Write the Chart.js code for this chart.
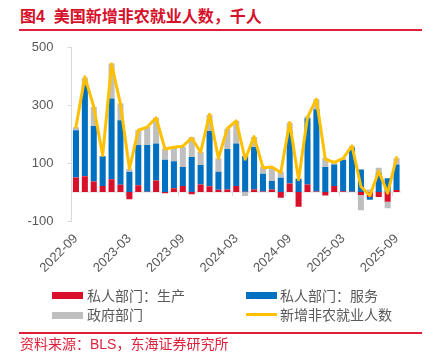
<!DOCTYPE html>
<html><head><meta charset="utf-8">
<script src="https://cdn.jsdelivr.net/npm/chart.js@4"></script>
<style>
html,body{margin:0;padding:0;background:#fff;}
body{width:438px;height:361px;position:relative;overflow:hidden;font-family:"Liberation Sans","Noto Sans CJK SC",sans-serif;}
#title{position:absolute;left:20px;top:7px;font-size:16px;font-weight:bold;color:#D7102A;line-height:20px;white-space:nowrap;font-family:"Liberation Sans","Noto Sans CJK SC",sans-serif;}
.rule{position:absolute;left:19px;width:403px;background:#E0203A;}
#c{position:absolute;left:0;top:0;}
.lg{position:absolute;font-size:14px;color:#595959;line-height:18px;white-space:nowrap;}
.sw{position:absolute;width:31px;}
#src{position:absolute;left:20px;top:335px;font-size:14px;color:#E0203A;line-height:18px;white-space:nowrap;}
</style></head>
<body>
<div id="title">图4&nbsp;&nbsp;美国新增非农就业人数，千人</div>
<div class="rule" style="top:29px;height:2px;"></div>
<canvas id="c" width="438" height="361"></canvas>
<div class="sw" style="left:52px;top:292px;height:7px;background:#D9102B;"></div>
<div class="lg" style="left:87px;top:287px;">私人部门：生产</div>
<div class="sw" style="left:246px;top:292px;height:7px;background:#0070C0;"></div>
<div class="lg" style="left:280px;top:287px;">私人部门：服务</div>
<div class="sw" style="left:52px;top:312px;height:7px;background:#BFBFBF;"></div>
<div class="lg" style="left:87px;top:306px;">政府部门</div>
<div class="sw" style="left:246px;top:313px;height:3px;background:#FFC000;"></div>
<div class="lg" style="left:280px;top:306px;">新增非农就业人数</div>
<div class="rule" style="top:332px;height:1.5px;"></div>
<div id="src">资料来源：BLS，东海证券研究所</div>
<script>
const months = ['2022-09','2022-10','2022-11','2022-12','2023-01','2023-02','2023-03','2023-04','2023-05','2023-06','2023-07','2023-08','2023-09','2023-10','2023-11','2023-12','2024-01','2024-02','2024-03','2024-04','2024-05','2024-06','2024-07','2024-08','2024-09','2024-10','2024-11','2024-12','2025-01','2025-02','2025-03','2025-04','2025-05','2025-06','2025-07','2025-08','2025-09'];
const shownTickLabels = ['2022-09','2023-03','2023-09','2024-03','2024-09','2025-03','2025-09'];
const privateGoods = [50,54,36,21,44,25,-25,23,1,40,-4,13,21,-8,26,20,8,9,21,1,9,2,9,-20,29,-51,26,2,-12,21,3,1,-10,-17,-17,-34,7];
const privateServices = [163,314,192,102,278,222,70,139,161,127,111,93,65,121,67,190,62,139,146,123,146,61,29,49,179,45,228,283,86,74,107,152,78,-10,66,47,88];
const government = [10,26,65,1,121,58,10,51,62,89,38,47,69,69,45,56,46,70,78,-14,35,23,48,21,31,2,6,35,32,8,6,6,-53,9,18,-22,21];
const totalNonfarm = [224,397,293,126,441,303,80,213,224,256,148,154,158,186,137,268,116,219,245,113,191,84,86,67,240,42,258,320,113,102,116,159,19,-13,72,-4,119];
const yTicks = [-100,100,300,500];

const zeroLine = {
  id:'zeroLine',
  beforeDatasetsDraw(chart){
    const {ctx, chartArea, scales:{x, y}} = chart;
    const y0 = y.getPixelForValue(0);
    ctx.save();
    ctx.strokeStyle = '#D9D9D9';
    ctx.lineWidth = 1;
    ctx.beginPath();
    ctx.moveTo(chartArea.left, y0); ctx.lineTo(chartArea.right, y0);
    for (let i = 6; i < months.length; i += 6) {
      const px = Math.round((x.getPixelForValue(i) + x.getPixelForValue(i-1)) / 2) + 0.5;
      ctx.moveTo(px, y0); ctx.lineTo(px, y0 + 4);
    }
    ctx.stroke();
    ctx.restore();
  }
};

new Chart(document.getElementById('c'), {
  type:'bar',
  data:{
    labels: months,
    datasets:[
      {label:'私人部门：生产', data: privateGoods, backgroundColor:'#D9102B', order:1, stack:'s'},
      {label:'私人部门：服务', data: privateServices, backgroundColor:'#0070C0', order:1, stack:'s'},
      {label:'政府部门', data: government, backgroundColor:'#BFBFBF', order:1, stack:'s'},
      {label:'新增非农就业人数', type:'line', data: totalNonfarm, borderColor:'#FFC000', backgroundColor:'#FFC000', borderWidth:3, pointRadius:0, tension:0, order:0, borderJoinStyle:'round', borderCapStyle:'round'}
    ]
  },
  options:{
    responsive:false,
    animation:false,
    devicePixelRatio:1,
    layout:{padding:{top:47, right:37, bottom:70, left:0}},
    plugins:{legend:{display:false}, tooltip:{enabled:false}},
    datasets:{bar:{categoryPercentage:1, barPercentage:0.68}},
    scales:{
      x:{
        stacked:true,
        grid:{display:false, drawTicks:false},
        border:{display:false},
        ticks:{
          autoSkip:false, maxRotation:45, minRotation:45, padding:10,
          color:'#595959', font:{family:'Liberation Sans', size:13},
          callback:function(v,i){ const l = months[i]; return shownTickLabels.includes(l) ? l : ''; }
        },
        afterFit:function(s){ s.height = 70; }
      },
      y:{
        stacked:true,
        min:-100, max:500,
        afterBuildTicks:function(s){ s.ticks = yTicks.map(v=>({value:v})); },
        grid:{drawOnChartArea:false, drawTicks:true, tickLength:4, color:'#D9D9D9'},
        border:{display:true, color:'#D9D9D9'},
        ticks:{padding:14, color:'#595959', font:{family:'Liberation Sans', size:13}},
        afterFit:function(s){ s.width = 71.5; }
      }
    }
  },
  plugins:[zeroLine]
});
</script>
</body></html>
